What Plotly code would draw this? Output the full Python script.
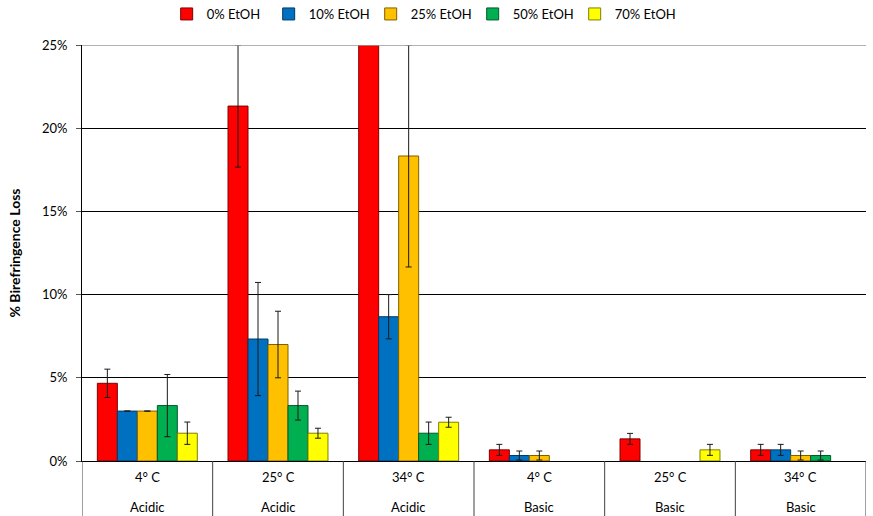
import plotly.graph_objects as go

# Sample groups: temperature / pH
temps = ["4° C", "25° C", "34° C", "4° C", "25° C", "34° C"]
conditions = ["Acidic", "Acidic", "Acidic", "Basic", "Basic", "Basic"]

series_names = ["0% EtOH", "10% EtOH", "25% EtOH", "50% EtOH", "70% EtOH"]
series_colors = ["#ff0000", "#0070c0", "#ffc000", "#00b050", "#ffff00"]
series_edges = ["#7f0000", "#003a66", "#7f6000", "#005a2c", "#7f7f00"]

# Mean birefringence loss (%) per group, one list per ethanol level
loss_0 = [4.67, 21.33, 28.0, 0.67, 1.33, 0.67]
loss_10 = [3.0, 7.33, 8.67, 0.33, None, 0.67]
loss_25 = [3.0, 7.0, 18.33, 0.33, None, 0.33]
loss_50 = [3.33, 3.33, 1.67, None, None, 0.33]
loss_70 = [1.67, 1.67, 2.33, None, 0.67, None]

# Error bar half-widths (%); None = no error bar
err_0 = [0.85, 3.67, 2.0, 0.33, 0.33, 0.33]
err_10 = [None, 3.4, 1.33, 0.27, None, 0.33]
err_25 = [None, 2.0, 6.67, 0.27, None, 0.27]
err_50 = [1.87, 0.87, 0.67, None, None, 0.27]
err_70 = [0.67, 0.3, 0.3, None, 0.33, None]

y_ticks = [0, 5, 10, 15, 20, 25]
y_tick_labels = ["0%", "5%", "10%", "15%", "20%", "25%"]

values = [loss_0, loss_10, loss_25, loss_50, loss_70]
errors = [err_0, err_10, err_25, err_50, err_70]

x_pos = list(range(len(temps)))
FONT = "Lato, 'Noto Sans', sans-serif"

fig = go.Figure()
for name, vals, errs, col, edge in zip(series_names, values, errors, series_colors, series_edges):
    fig.add_trace(go.Bar(
        name=name,
        x=x_pos,
        y=vals,
        marker=dict(color=col, line=dict(color=edge, width=1)),
        error_y=dict(type="data", array=[e if e is not None else float("nan") for e in errs],
                     visible=True, color="#1a1a1a", thickness=1, width=3),
    ))

shapes = []
# Group dividers running down through the category labels
for b in range(len(temps) + 1):
    shapes.append(dict(type="line", xref="x", yref="paper",
                       x0=b - 0.5, x1=b - 0.5, y0=0, y1=-0.2,
                       line=dict(color="#404040", width=1)))
# Top gridline drawn lighter
shapes.append(dict(type="line", xref="paper", yref="y", x0=0, x1=1, y0=25, y1=25,
                   line=dict(color="#999999", width=1.5), layer="above"))

annotations = []
for i, (t, c) in enumerate(zip(temps, conditions)):
    annotations.append(dict(x=i, y=-16 / 416, xref="x", yref="paper", text=t,
                            showarrow=False, yanchor="middle",
                            font=dict(size=13, color="#000000", family=FONT)))
    annotations.append(dict(x=i, y=-46 / 416, xref="x", yref="paper", text=c,
                            showarrow=False, yanchor="middle",
                            font=dict(size=13, color="#000000", family=FONT)))

fig.update_layout(
    width=873, height=516,
    margin=dict(l=82, r=7, t=45, b=55, autoexpand=False),
    paper_bgcolor="white", plot_bgcolor="white",
    barmode="group", bargap=0.235, bargroupgap=0,
    font=dict(family=FONT, size=13, color="#000000"),
    showlegend=True,
    legend=dict(orientation="h", x=0.108, xanchor="left",
                y=1 - 14 / 516, yanchor="middle", yref="container",
                entrywidth=57, entrywidthmode="pixels",
                font=dict(size=13, family=FONT),
                traceorder="normal"),
    xaxis=dict(range=[-0.5, 5.5], showticklabels=False, showgrid=False,
               showline=True, linecolor="#000000", linewidth=1, ticks="",
               zeroline=False, fixedrange=True),
    yaxis=dict(range=[0, 25], tickvals=y_ticks, ticktext=y_tick_labels,
               showgrid=True, gridcolor="#000000", gridwidth=1,
               showline=True, linecolor="#000000", linewidth=1,
               ticks="outside", ticklen=5, tickcolor="#555555",
               ticklabelstandoff=6,
               zeroline=False, tickfont=dict(size=13, family=FONT),
               title=dict(text="<b>% Birefringence Loss</b>", standoff=18,
                          font=dict(size=14, family=FONT))),
    shapes=shapes,
    annotations=annotations,
)

fig.write_html("out.html")
